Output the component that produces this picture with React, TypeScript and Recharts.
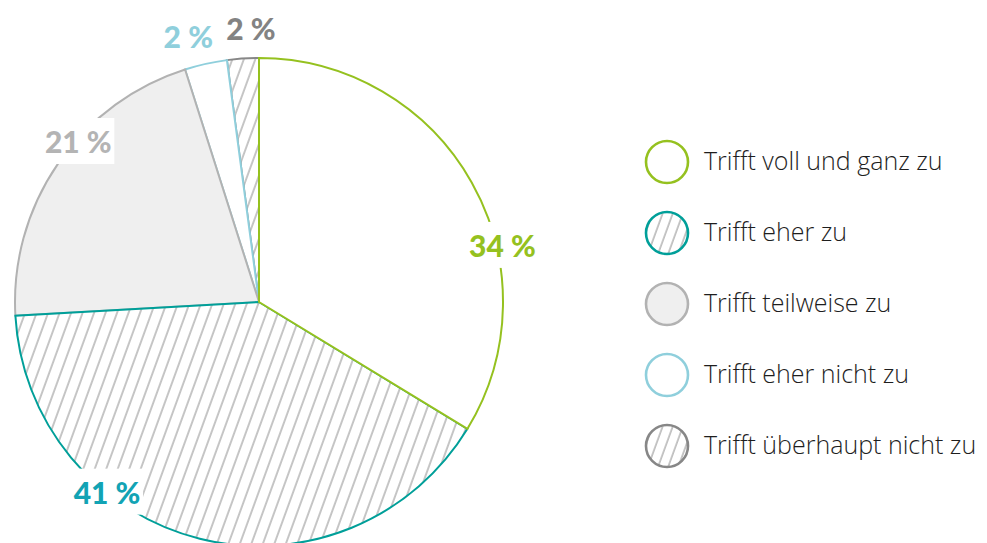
import { PieChart, Pie, Cell, Legend } from "recharts";

const CATEGORIES = [
  "Trifft voll und ganz zu",
  "Trifft eher zu",
  "Trifft teilweise zu",
  "Trifft eher nicht zu",
  "Trifft überhaupt nicht zu",
];
const VALUES = [33.7, 40.4, 21.0, 2.8, 2.1];
const VALUE_LABELS = ["34 %", "41 %", "21 %", "2 %", "2 %"];

// Stil je Kategorie
const STROKES = ["#95c11f", "#009f99", "#b2b2b2", "#8fcfdc", "#878787"];
const FILLS = ["#ffffff", "url(#hatch)", "#efefef", "#ffffff", "url(#hatch)"];
const LABEL_COLORS = ["#95c11f", "#12a3b4", "#b4b4b4", "#8fcfdc", "#838383"];
// Label-Position: Winkel (Grad, mathematisch) und Radius
const LABEL_ANGLES = [13.2, 231.3, 138.3, 104.9, 91.7];
const LABEL_RADII = [250, 243, 242, 275, 274];

const HATCHED = [false, true, false, false, true];

const RAD = Math.PI / 180;
const LABEL_FONT = "Lato, 'DejaVu Sans', sans-serif";
const TEXT_FONT = "'Open Sans', 'Noto Sans', sans-serif";

// Reihenfolge umgekehrt, gegen den Uhrzeigersinn gezeichnet,
// damit die Kanten der ersten Segmente oben liegen
const data = CATEGORIES.map((name, i) => ({ name, value: VALUES[i], idx: i })).reverse();

const HatchPattern = ({ id, size = 10.8 }: { id: string; size?: number }) => (
  <pattern
    id={id}
    patternUnits="userSpaceOnUse"
    width={size}
    height={size}
    patternTransform="rotate(20)"
  >
    <rect width={size} height={size} fill="#ffffff" />
    <line x1={1} y1={0} x2={1} y2={size} stroke="#8e8e8e" strokeWidth={1} />
  </pattern>
);

const renderLabel = (props: any) => {
  const { cx, cy, index } = props;
  const i = CATEGORIES.length - 1 - index;
  const a = LABEL_ANGLES[i] * RAD;
  const x = cx + LABEL_RADII[i] * Math.cos(a);
  const y = cy - LABEL_RADII[i] * Math.sin(a);
  const w = VALUE_LABELS[i].length * 17 + 4;
  return (
    <g key={`lbl-${i}`}>
      <rect x={x - w / 2} y={y - 23} width={w} height={46} fill="#ffffff" />
      <text
        x={x}
        y={y}
        textAnchor="middle"
        dominantBaseline="central"
        fill={LABEL_COLORS[i]}
        fontFamily={LABEL_FONT}
        fontWeight={900}
        fontSize={30}
      >
        {VALUE_LABELS[i]}
      </text>
    </g>
  );
};

const LegendList = () => (
  <div>
    {CATEGORIES.map((name, i) => (
      <div
        key={name}
        style={{ display: "flex", alignItems: "center", height: 70.8 }}
      >
        <svg width={48} height={48}>
          {HATCHED[i] && (
            <defs>
              <HatchPattern id={`lg-hatch-${i}`} size={9.5} />
            </defs>
          )}
          <circle
            cx={24}
            cy={24}
            r={21}
            fill={HATCHED[i] ? `url(#lg-hatch-${i})` : FILLS[i]}
            stroke={STROKES[i]}
            strokeWidth={2.6}
          />
        </svg>
        <span
          style={{
            marginLeft: 13,
            marginTop: -4,
            fontFamily: TEXT_FONT,
            fontWeight: 300,
            fontSize: 25,
            color: "#1e1e1e",
            whiteSpace: "nowrap",
          }}
        >
          {name}
        </span>
      </div>
    ))}
  </div>
);

export default function App() {
  return (
    <div style={{ position: "absolute", left: 0, top: 0, width: 987, height: 543, background: "#fff" }}>
      <PieChart width={987} height={543} margin={{ top: 0, right: 0, bottom: 0, left: 0 }}>
        <defs>
          <HatchPattern id="hatch" />
        </defs>
        <Pie
          data={data}
          dataKey="value"
          nameKey="name"
          cx={259}
          cy={302}
          outerRadius={244}
          startAngle={90}
          endAngle={450}
          label={renderLabel}
          labelLine={false}
          isAnimationActive={false}
        >
          {data.map((d) => (
            <Cell
              key={d.name}
              fill={FILLS[d.idx]}
              stroke={STROKES[d.idx]}
              strokeWidth={2}
            />
          ))}
        </Pie>
        <Legend
          content={() => <LegendList />}
          wrapperStyle={{ position: "absolute", left: 643, top: 127, width: 344 }}
        />
      </PieChart>
    </div>
  );
}
